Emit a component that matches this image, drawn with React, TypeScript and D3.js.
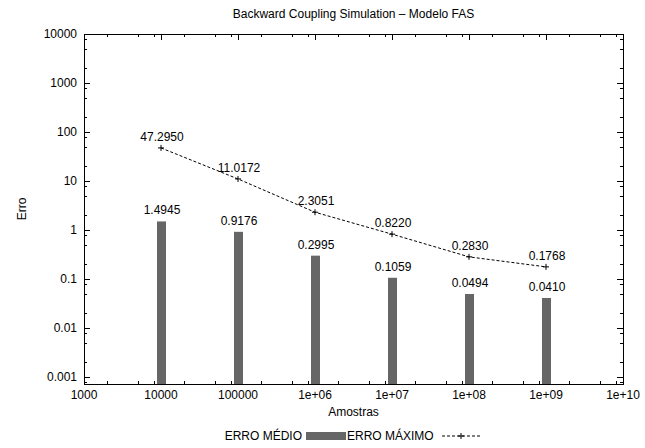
import React, { useRef, useEffect } from 'react';
import * as d3 from 'd3';

// samples (x) and the two error series
const samples = [1e4, 1e5, 1e6, 1e7, 1e8, 1e9];
const erroMedio = [1.4945, 0.9176, 0.2995, 0.1059, 0.0494, 0.041];
const erroMaximo = [47.295, 11.0172, 2.3051, 0.822, 0.283, 0.1768];

const xTickValues = [1e3, 1e4, 1e5, 1e6, 1e7, 1e8, 1e9, 1e10];
const xTickLabels = ['1000', '10000', '100000', '1e+06', '1e+07', '1e+08', '1e+09', '1e+10'];
const yTickValues = [0.001, 0.01, 0.1, 1, 10, 100, 1000, 10000];
const yTickLabels = ['0.001', '0.01', '0.1', '1', '10', '100', '1000', '10000'];

const App = () => {
  const svgRef = useRef<SVGSVGElement | null>(null);

  useEffect(() => {
    const width = 645;
    const height = 448;
    const margin = { top: 34, right: 22, bottom: 64, left: 84 };
    const font = 'Liberation Sans, Arial, Helvetica, sans-serif';

    const svg = d3.select(svgRef.current);
    svg.selectAll('*').remove();
    svg.attr('width', width).attr('height', height)
      .style('background', '#ffffff')
      .style('font-family', font);

    const innerWidth = width - margin.left - margin.right;
    const innerHeight = height - margin.top - margin.bottom;

    const g = svg.append('g').attr('transform', `translate(${margin.left},${margin.top})`);

    const xScale = d3.scaleLog().domain([1e3, 1e10]).range([0, innerWidth]);
    const yScale = d3.scaleLog().domain([Math.pow(10, -3.143), 1e4]).range([innerHeight, 0]);

    // minor ticks sit at 2, 5 and 8 within each decade
    const minorX: number[] = [];
    for (let e = 3; e < 10; e++) [2, 5, 8].forEach(m => minorX.push(m * Math.pow(10, e)));
    const minorY: number[] = [];
    for (let e = -4; e < 4; e++) [2, 5, 8].forEach(m => {
      const v = m * Math.pow(10, e);
      if (v >= yScale.domain()[0]) minorY.push(v);
    });

    const majorLen = 6;
    const minorLen = 3;

    // x ticks (bottom and top mirror)
    const tickG = g.append('g').attr('stroke', '#000').attr('stroke-width', 1);
    xTickValues.forEach(v => {
      const x = Math.round(xScale(v)) + 0.5;
      tickG.append('line').attr('x1', x).attr('x2', x).attr('y1', innerHeight).attr('y2', innerHeight - majorLen);
      tickG.append('line').attr('x1', x).attr('x2', x).attr('y1', 0).attr('y2', majorLen);
    });
    minorX.forEach(v => {
      const x = Math.round(xScale(v)) + 0.5;
      tickG.append('line').attr('x1', x).attr('x2', x).attr('y1', innerHeight).attr('y2', innerHeight - minorLen);
      tickG.append('line').attr('x1', x).attr('x2', x).attr('y1', 0).attr('y2', minorLen);
    });
    yTickValues.forEach(v => {
      const y = Math.round(yScale(v)) + 0.5;
      tickG.append('line').attr('x1', 0).attr('x2', majorLen).attr('y1', y).attr('y2', y);
      tickG.append('line').attr('x1', innerWidth).attr('x2', innerWidth - majorLen).attr('y1', y).attr('y2', y);
    });
    minorY.forEach(v => {
      const y = Math.round(yScale(v)) + 0.5;
      tickG.append('line').attr('x1', 0).attr('x2', minorLen).attr('y1', y).attr('y2', y);
      tickG.append('line').attr('x1', innerWidth).attr('x2', innerWidth - minorLen).attr('y1', y).attr('y2', y);
    });

    // tick labels
    g.selectAll('.xlab').data(xTickValues).enter().append('text')
      .attr('x', d => xScale(d))
      .attr('y', innerHeight + 15)
      .attr('text-anchor', 'middle')
      .attr('font-size', 12)
      .text((d, i) => xTickLabels[i]);

    g.selectAll('.ylab').data(yTickValues).enter().append('text')
      .attr('x', -7)
      .attr('y', d => yScale(d) + 4)
      .attr('text-anchor', 'end')
      .attr('font-size', 12)
      .text((d, i) => yTickLabels[i]);

    // bars (ERRO MÉDIO)
    const barW = 9;
    g.selectAll('.bar').data(samples).enter().append('rect')
      .attr('x', d => xScale(d) - barW / 2 + 0.5)
      .attr('y', (d, i) => yScale(erroMedio[i]))
      .attr('width', barW)
      .attr('height', (d, i) => innerHeight - yScale(erroMedio[i]))
      .attr('fill', '#666666');

    g.selectAll('.barlab').data(samples).enter().append('text')
      .attr('x', d => xScale(d) + 1)
      .attr('y', (d, i) => yScale(erroMedio[i]) - 7)
      .attr('text-anchor', 'middle')
      .attr('font-size', 12)
      .text((d, i) => erroMedio[i].toFixed(4));

    // line (ERRO MÁXIMO)
    const line = d3.line<number>()
      .x(d => xScale(d))
      .y((d, i) => yScale(erroMaximo[i]));

    g.append('path')
      .datum(samples)
      .attr('fill', 'none')
      .attr('stroke', '#000')
      .attr('stroke-width', 1)
      .attr('stroke-dasharray', '3,2')
      .attr('d', line);

    samples.forEach((d, i) => {
      const cx = xScale(d);
      const cy = yScale(erroMaximo[i]);
      g.append('path')
        .attr('d', `M${cx - 3},${cy}H${cx + 3}M${cx},${cy - 3}V${cy + 3}`)
        .attr('stroke', '#000')
        .attr('stroke-width', 1);
    });

    g.selectAll('.linelab').data(samples).enter().append('text')
      .attr('x', d => xScale(d) + 1)
      .attr('y', (d, i) => yScale(erroMaximo[i]) - 7)
      .attr('text-anchor', 'middle')
      .attr('font-size', 12)
      .text((d, i) => erroMaximo[i].toFixed(4));

    // frame
    g.append('rect')
      .attr('x', 0.5).attr('y', 0.5)
      .attr('width', innerWidth).attr('height', innerHeight)
      .attr('fill', 'none')
      .attr('stroke', '#000')
      .attr('stroke-width', 1);

    // title and axis names
    svg.append('text')
      .attr('x', margin.left + innerWidth / 2)
      .attr('y', 18)
      .attr('text-anchor', 'middle')
      .attr('font-size', 12)
      .text('Backward Coupling Simulation – Modelo FAS');

    svg.append('text')
      .attr('x', margin.left + innerWidth / 2)
      .attr('y', 416)
      .attr('text-anchor', 'middle')
      .attr('font-size', 12)
      .text('Amostras');

    svg.append('text')
      .attr('transform', `translate(26,${margin.top + innerHeight / 2}) rotate(-90)`)
      .attr('text-anchor', 'middle')
      .attr('font-size', 12)
      .text('Erro');

    // legend
    const leg = svg.append('g').attr('font-size', 12);
    leg.append('text').attr('x', 302).attr('y', 440).attr('text-anchor', 'end').text('ERRO MÉDIO');
    leg.append('rect').attr('x', 306).attr('y', 432).attr('width', 40).attr('height', 8).attr('fill', '#666666');
    leg.append('text').attr('x', 347).attr('y', 440).text('ERRO MÁXIMO');
    leg.append('line')
      .attr('x1', 442).attr('x2', 480).attr('y1', 436).attr('y2', 436)
      .attr('stroke', '#000').attr('stroke-dasharray', '3,2');
    leg.append('path')
      .attr('d', 'M458,436H464M461,433V439')
      .attr('stroke', '#000');
  }, []);

  return (
    <div style={{ position: 'absolute', left: 0, top: 0 }}>
      <svg ref={svgRef}></svg>
    </div>
  );
};

export default App;
